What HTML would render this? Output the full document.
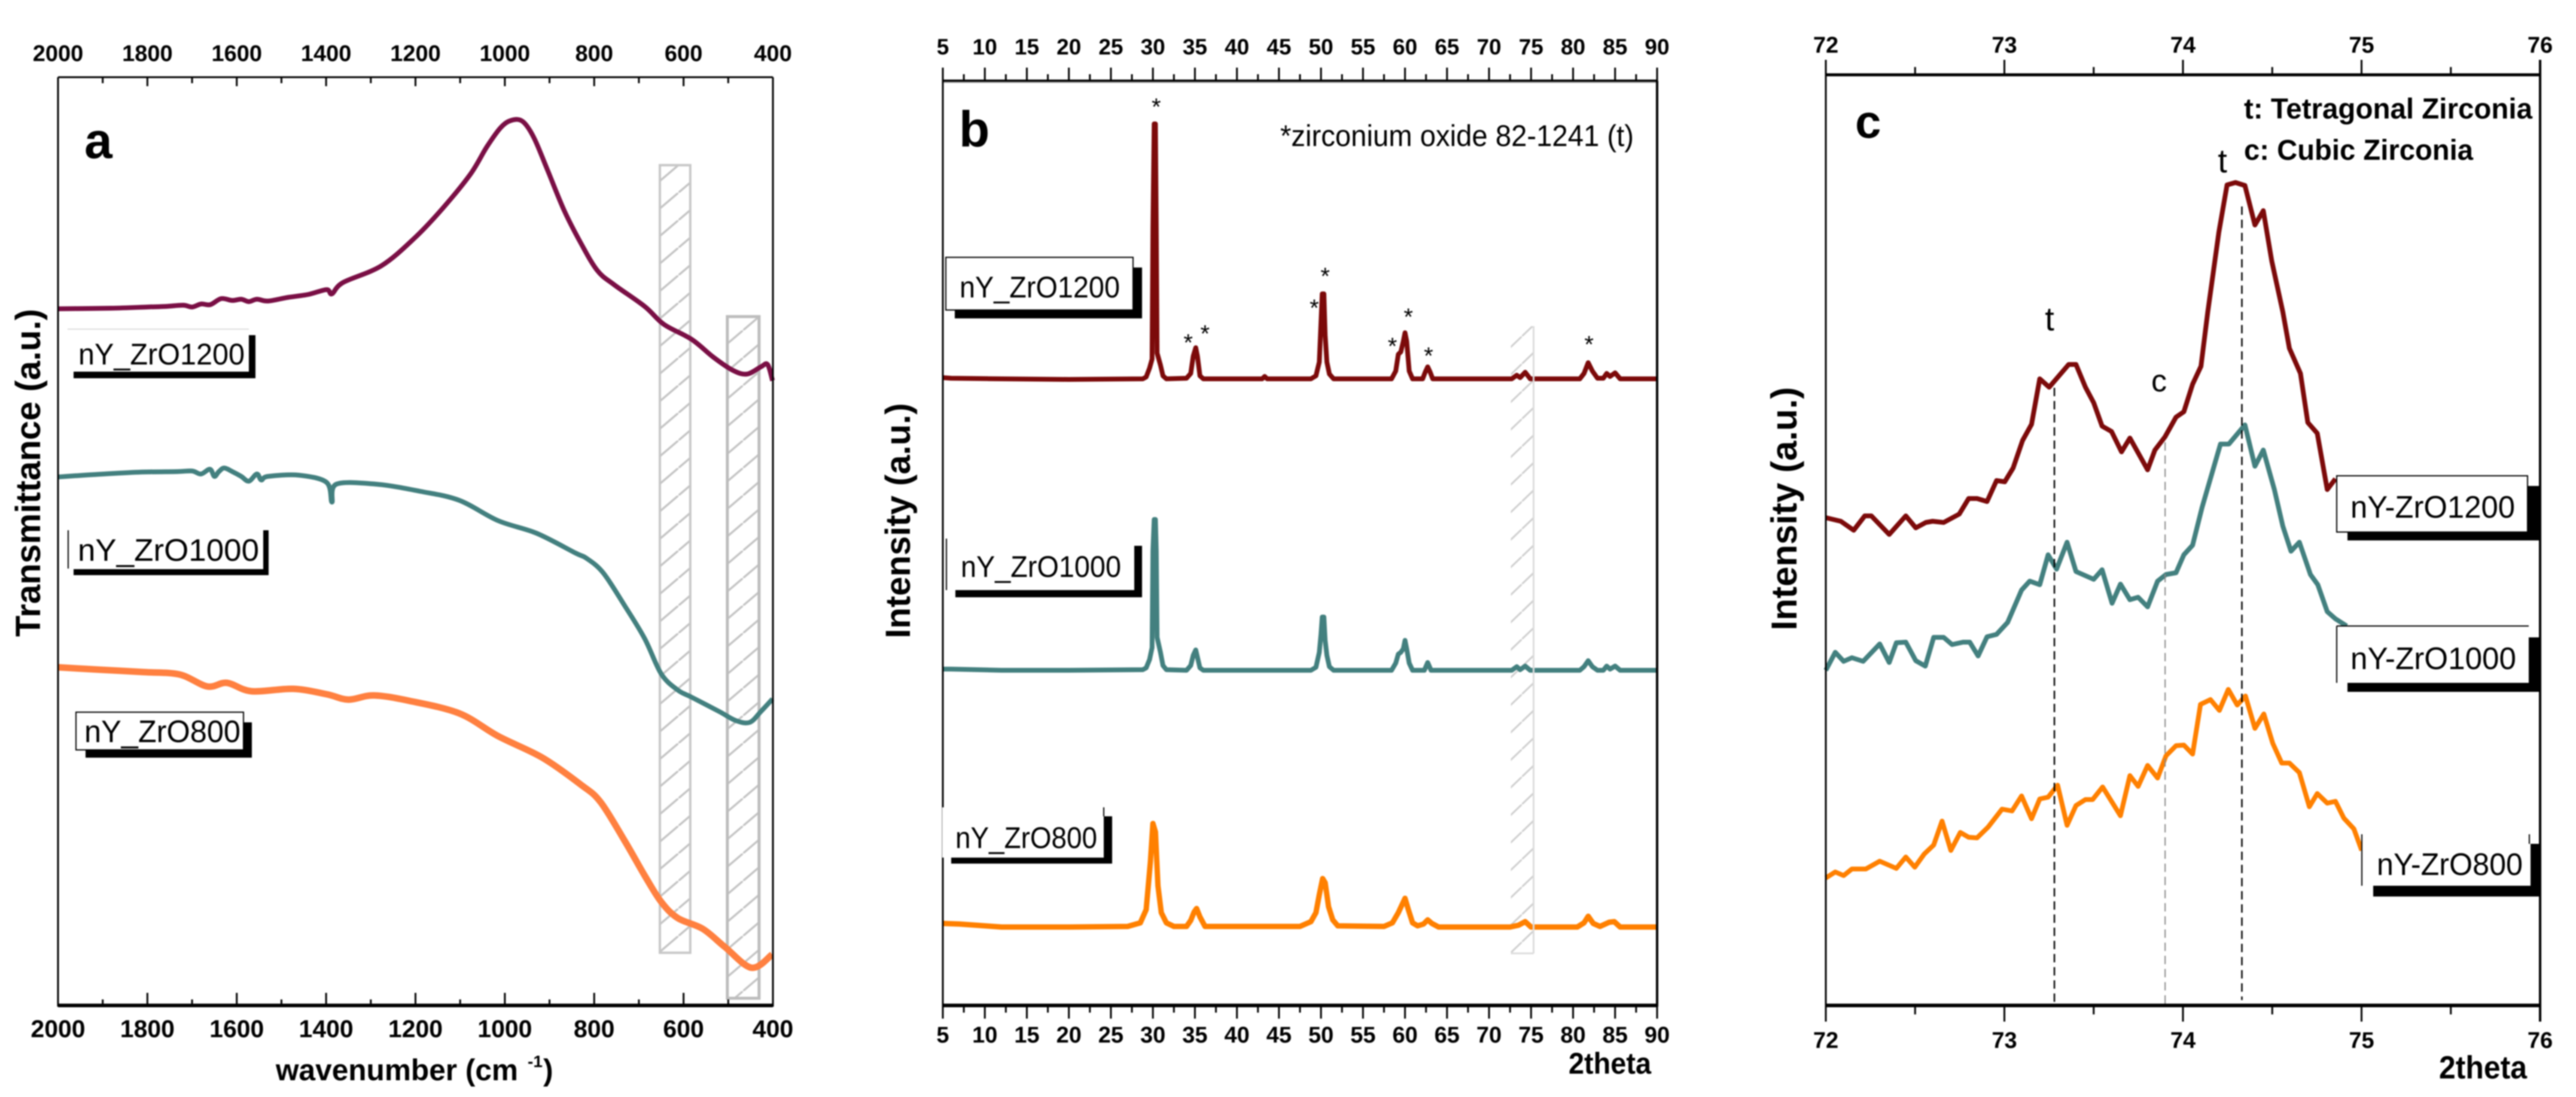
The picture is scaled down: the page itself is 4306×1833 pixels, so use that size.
<!DOCTYPE html>
<html lang="en">
<head>
<meta charset="utf-8">
<title>FTIR and XRD of nY_ZrO samples</title>
<style>
html,body{margin:0;padding:0;background:#fff;width:4306px;height:1833px;overflow:hidden}
svg{display:block;filter:blur(1px)}
text{font-family:"Liberation Sans",sans-serif;fill:#000}
.b{font-weight:700}
</style>
</head>
<body>
<svg id="fig" xmlns="http://www.w3.org/2000/svg" width="4306" height="1833" viewBox="0 0 4306 1833">
  <defs>
    <pattern id="hatchA" patternUnits="userSpaceOnUse" width="54" height="46"><line x1="0" y1="46" x2="54" y2="0" stroke="#c4c4c4" stroke-width="3.5"/></pattern>
    <pattern id="hatchB" patternUnits="userSpaceOnUse" width="48" height="46" y="10"><line x1="0" y1="46" x2="48" y2="0" stroke="#cfcfcf" stroke-width="3"/></pattern>
  </defs>
  <rect width="4306" height="1833" fill="#fff"/>
  <g id="hatches"></g>
  <g id="series"></g>
  <g id="guides"></g>
  <g id="axes"></g>

  <!-- panel a labels -->
  <g>
    <rect x="113" y="550" width="303" height="70" fill="#fff"/><line x1="113" y1="550" x2="416" y2="550" stroke="#ddd" stroke-width="2"/>
    <rect x="416" y="560" width="11" height="72" fill="#000"/><rect x="123" y="621" width="304" height="11" fill="#000"/>
    <text x="131" y="609" font-size="50" textLength="278" lengthAdjust="spacingAndGlyphs">nY_ZrO1200</text>
  </g>
  <g>
    <rect x="114" y="886" width="326" height="65" fill="#fff"/><line x1="114" y1="886" x2="114" y2="950" stroke="#000" stroke-width="2"/>
    <rect x="440" y="886" width="9" height="75" fill="#000"/><rect x="123" y="951" width="326" height="10" fill="#000"/>
    <text x="130" y="937" font-size="52" textLength="303" lengthAdjust="spacingAndGlyphs">nY_ZrO1000</text>
  </g>
  <g>
    <rect x="407" y="1207" width="14" height="59" fill="#000"/><rect x="143" y="1253" width="278" height="13" fill="#000"/>
    <rect x="127" y="1190" width="280" height="63" fill="#fff" stroke="#000" stroke-width="2"/>
    <text x="141" y="1240" font-size="52" textLength="261" lengthAdjust="spacingAndGlyphs">nY_ZrO800</text>
  </g>
  <!-- panel b labels -->
  <g>
    <rect x="1894" y="447" width="15" height="85" fill="#000"/><rect x="1596" y="518" width="313" height="14" fill="#000"/>
    <rect x="1581" y="430" width="313" height="88" fill="#fff" stroke="#000" stroke-width="2"/>
    <text x="1604" y="497" font-size="50" textLength="268" lengthAdjust="spacingAndGlyphs">nY_ZrO1200</text>
  </g>
  <g>
    <rect x="1582" y="900" width="314" height="86" fill="#fff"/><line x1="1582" y1="900" x2="1582" y2="986" stroke="#000" stroke-width="2"/>
    <rect x="1896" y="912" width="13" height="86" fill="#000"/><rect x="1597" y="986" width="312" height="12" fill="#000"/>
    <text x="1606" y="964" font-size="50" textLength="268" lengthAdjust="spacingAndGlyphs">nY_ZrO1000</text>
  </g>
  <g>
    <rect x="1575" y="1349" width="270" height="84" fill="#fff"/><line x1="1845" y1="1349" x2="1845" y2="1364" stroke="#000" stroke-width="2"/>
    <rect x="1845" y="1364" width="14" height="79" fill="#000"/><rect x="1590" y="1433" width="269" height="10" fill="#000"/>
    <text x="1597" y="1417" font-size="50" textLength="237" lengthAdjust="spacingAndGlyphs">nY_ZrO800</text>
  </g>
  <!-- panel c labels -->
  <g>
    <rect x="4225" y="812" width="21" height="91" fill="#000"/><rect x="3924" y="889" width="322" height="14" fill="#000"/>
    <rect x="3906" y="795" width="319" height="94" fill="#fff" stroke="#000" stroke-width="2"/>
    <text x="3929" y="865" font-size="52" textLength="275" lengthAdjust="spacingAndGlyphs">nY-ZrO1200</text>
  </g>
  <g>
    <rect x="3906" y="1046" width="321" height="95" fill="#fff"/>
    <line x1="3906" y1="1046" x2="4227" y2="1046" stroke="#000" stroke-width="2"/><line x1="3906" y1="1046" x2="3906" y2="1141" stroke="#000" stroke-width="2"/>
    <rect x="4227" y="1065" width="19" height="91" fill="#000"/><rect x="3924" y="1141" width="322" height="15" fill="#000"/>
    <text x="3929" y="1118" font-size="52" textLength="277" lengthAdjust="spacingAndGlyphs">nY-ZrO1000</text>
  </g>
  <g>
    <rect x="3948" y="1394" width="280" height="86" fill="#fff"/>
    <line x1="3948" y1="1394" x2="3948" y2="1480" stroke="#000" stroke-width="2"/><line x1="4228" y1="1394" x2="4228" y2="1410" stroke="#000" stroke-width="2"/>
    <rect x="4230" y="1410" width="16" height="88" fill="#000"/><rect x="3967" y="1480" width="279" height="18" fill="#000"/>
    <text x="3973" y="1462" font-size="52" textLength="244" lengthAdjust="spacingAndGlyphs">nY-ZrO800</text>
  </g>

  <!-- titles / annotations -->
  <text class="b" x="141" y="264" font-size="84">a</text>
  <text class="b" x="1603" y="245" font-size="84">b</text>
  <text class="b" x="3101" y="230" font-size="78">c</text>
  <text class="b" transform="translate(67 790) rotate(-90)" text-anchor="middle" font-size="58">Transmittance (a.u.)</text>
  <text class="b" transform="translate(1521 870) rotate(-90)" text-anchor="middle" font-size="58">Intensity (a.u.)</text>
  <text class="b" transform="translate(3003 850) rotate(-90)" text-anchor="middle" font-size="60">Intensity (a.u.)</text>
  <text class="b" x="461" y="1805" font-size="50" textLength="405" lengthAdjust="spacingAndGlyphs">wavenumber (cm</text>
  <text class="b" x="882" y="1783" font-size="28">-1</text>
  <text class="b" x="908" y="1805" font-size="50">)</text>
  <text class="b" x="2622" y="1794" font-size="50" textLength="138" lengthAdjust="spacingAndGlyphs">2theta</text>
  <text class="b" x="4077" y="1802" font-size="54" textLength="147" lengthAdjust="spacingAndGlyphs">2theta</text>
  <text x="2140" y="244" font-size="50" textLength="591" lengthAdjust="spacingAndGlyphs">*zirconium oxide 82-1241 (t)</text>
  <text class="b" x="3751" y="198" font-size="48" textLength="482" lengthAdjust="spacingAndGlyphs">t: Tetragonal Zirconia</text>
  <text class="b" x="3751" y="267" font-size="48" textLength="383" lengthAdjust="spacingAndGlyphs">c: Cubic Zirconia</text>
  <text x="3715" y="288" font-size="56" text-anchor="middle">t</text>
  <text x="3426" y="552" font-size="56" text-anchor="middle">t</text>
  <text x="3609" y="654" font-size="52" text-anchor="middle">c</text>
  <g id="stars"></g>
</svg>
<script>
// ---------- Panel a: FTIR (wavenumber, transmittance a.u.) ----------
const aTicks = [2000,1800,1600,1400,1200,1000,800,600,400];
const aWave1200 = [2000,1882,1800,1759,1720,1700,1680,1659,1635,1610,1590,1573,1555,1530,1486,1440,1399,1387,1362,1276,1201,1139,1077,1040,1009,985,960,935,904,867,830,793,755,687,644,582,533,489,458,427,412,401];
const aTrans1200 = [1164,1165,1167,1168,1170,1167,1172,1171,1181,1178,1180,1176,1180,1177,1183,1188,1196,1189,1208,1236,1283,1332,1389,1435,1467,1479,1477,1450,1395,1328,1274,1228,1204,1168,1138,1113,1083,1061,1055,1067,1071,1044];
const aWave1000 = [2000,1920,1820,1734,1700,1680,1660,1650,1640,1628,1610,1590,1573,1555,1545,1530,1461,1399,1387,1377,1288,1189,1102,1015,929,842,817,780,731,687,650,613,582,520,483,452,427,401];
const aTrans1000 = [883,887,891,892,893,888,896,884,892,898,892,884,876,888,878,884,886,874,841,871,871,859,844,810,789,756,747,723,667,613,554,527,515,491,476,473,491,512];
const aWave800 = [2000,1907,1808,1728,1666,1622,1567,1474,1399,1350,1294,1214,1102,1015,916,830,786,731,687,650,613,557,508,448,402];
const aTrans800 = [565,561,557,553,533,539,525,529,520,511,518,509,488,450,414,369,340,274,217,173,146,128,98,63,85];

// ---------- Panel b: XRD full range (2theta, intensity a.u.) ----------
const bTicks = [5,10,15,20,25,30,35,40,45,50,55,60,65,70,75,80,85,90];
const b2t1200 = [5,6,12,20,28.8,29.2,29.6,29.9,30,30.15,30.3,30.4,30.5,30.9,31.2,31.6,34,34.5,34.8,35.1,35.3,35.6,36,43,43.3,43.6,48.8,49.4,49.8,50,50.15,50.35,50.5,50.7,51,51.5,58.4,58.9,59.2,59.5,59.8,60,60.2,60.5,60.9,62.1,62.4,62.7,63,63.3,72.7,73.3,73.7,74.3,74.9,80.8,81.3,81.8,82.3,82.9,83.6,84,84.4,85,85.6,90];
const bInt1200 = [1049,1048,1047,1046,1047,1050,1065,1080,1300,1473,1473,1300,1090,1070,1052,1047,1048,1056,1085,1099,1085,1052,1047,1047,1051,1047,1047,1052,1075,1140,1189,1189,1120,1075,1055,1047,1047,1060,1088,1092,1110,1124,1110,1060,1047,1047,1058,1067,1058,1047,1047,1053,1049,1058,1047,1047,1056,1074,1060,1048,1048,1056,1051,1057,1047,1047];
const b2t1000 = [5,6,12,20,28.8,29.2,29.6,29.9,30,30.15,30.3,30.4,30.5,30.9,31.2,31.6,34,34.5,34.8,35.1,35.3,35.6,36,48.8,49.4,49.8,50,50.15,50.35,50.5,50.7,51,51.5,58.4,58.9,59.2,59.5,59.8,60,60.2,60.5,60.9,62.3,62.7,63.1,72.7,73.3,73.7,74.3,74.9,80.8,81.3,81.8,82.3,82.9,83.6,84,84.4,85,85.6,90];
const bInt1000 = [562,562,560,560,561,564,578,598,760,812,812,760,615,590,568,561,560,568,585,594,582,564,560,560,565,590,620,649,649,610,585,566,560,560,572,587,590,596,610,596,572,560,560,573,560,560,566,561,567,560,560,566,576,566,560,560,567,562,567,560,560];
const b2t800 = [5,7,12,20,27,28.5,29.2,29.7,30,30.3,30.6,31,31.6,32.5,34,34.5,34.9,35.2,35.6,36.2,47.5,48.8,49.4,49.8,50.2,50.5,50.9,51.4,52,57.5,58.5,59.2,59.7,60,60.4,60.9,61.5,62.2,62.7,63.2,64,72.5,73.5,74.3,75,80.5,81.3,81.8,82.4,83.2,84.3,84.9,85.6,90];
const bInt800 = [137,136,131,131,132,138,160,240,304,290,200,155,138,132,132,142,156,162,148,132,132,140,155,185,212,205,165,143,133,132,138,155,170,179,160,138,133,136,143,137,131,131,134,140,131,131,138,149,137,132,139,140,131,131];
const starTheta = [30.4,34.2,36.2,49.2,50.5,58.5,60.4,62.8,81.9];
const starHeight = [1488,1094,1109,1152,1205,1088,1137,1072,1091];

// ---------- Panel c: XRD zoom (2theta, intensity a.u.) ----------
const cTicks = [72,73,74,75,76];
const c2t1200 = [72,72.084,72.156,72.218,72.255,72.355,72.448,72.504,72.56,72.598,72.66,72.747,72.8,72.847,72.903,72.956,73.002,73.049,73.102,73.152,73.198,73.251,73.36,73.401,73.454,73.5,73.547,73.6,73.656,73.703,73.802,73.843,73.899,73.961,74.005,74.054,74.101,74.139,74.17,74.201,74.247,74.294,74.347,74.403,74.45,74.497,74.559,74.596,74.658,74.699,74.752,74.808,74.854];
const cInt1200 = [815,809,794,818,818,787,818,798,807,809,807,821,847,847,842,877,875,898,944,971,1047,1033,1071,1071,1033,1007,968,959,925,948,895,928,950,983,992,1038,1068,1159,1225,1292,1371,1375,1370,1304,1328,1244,1159,1098,1056,974,956,862,880];
const c2t1000 = [72,72.053,72.1,72.146,72.209,72.302,72.355,72.395,72.448,72.504,72.557,72.604,72.66,72.707,72.769,72.806,72.853,72.903,72.956,73.018,73.096,73.142,73.198,73.245,73.292,73.351,73.401,73.5,73.547,73.603,73.65,73.703,73.749,73.802,73.858,73.905,73.961,74.005,74.054,74.107,74.21,74.257,74.347,74.403,74.45,74.512,74.559,74.605,74.652,74.714,74.755,74.808,74.854,74.917];
const cInt1000 = [560,590,575,581,575,604,573,606,607,576,567,615,615,603,607,607,584,616,620,640,694,709,703,753,729,774,725,712,728,672,704,678,682,666,709,720,723,753,769,832,938,938,970,901,928,862,801,759,774,720,703,658,646,634];
const c2t800 = [72,72.053,72.1,72.146,72.224,72.302,72.395,72.448,72.498,72.551,72.604,72.651,72.7,72.753,72.8,72.847,72.909,72.987,73.043,73.096,73.152,73.198,73.245,73.298,73.351,73.401,73.454,73.494,73.55,73.65,73.703,73.749,73.802,73.858,73.905,73.961,74.005,74.054,74.098,74.154,74.204,74.254,74.304,74.35,74.403,74.453,74.503,74.553,74.596,74.652,74.708,74.752,74.808,74.854,74.901,74.957,75.001];
const cInt800 = [213,223,217,228,228,241,229,248,231,253,268,308,259,289,281,280,298,328,325,350,312,345,348,368,301,334,344,344,365,317,384,366,401,380,417,434,435,420,503,511,493,528,502,517,463,487,438,405,405,389,332,354,338,341,313,295,259];
const cGuides = [73.28,73.9,74.33];
const cGuideTop = [1032,941,1335];

// ---------- Scales ----------
const NS = 'http://www.w3.org/2000/svg';
function linear(d0,d1,r0,r1){return function(v){return r0+(v-d0)*(r1-r0)/(d1-d0);};}
const BOTTOM = 1680;
const yA = linear(0,1551,1680,129);     // intensity a.u. axis, shared across panels
const xA = linear(2000,400,97,1292);
const xB = linear(5,90,1576,2770);
const xC = linear(72,76,3052,4246);

const seriesG = document.getElementById('series');
const axesG = document.getElementById('axes');
const hatchG = document.getElementById('hatches');
const guideG = document.getElementById('guides');
const starG = document.getElementById('stars');

function make(tag,parent){const e=document.createElementNS(NS,tag);parent.appendChild(e);return e;}

function polyPath(px,py){
  let d='';
  for(let i=0;i<px.length;i++){d+=(i?'L':'M')+px[i].toFixed(1)+' '+py[i].toFixed(1);}
  return d;
}
// Catmull-Rom rendering for the smooth FTIR traces
function smoothPath(px,py){
  let d='M'+px[0].toFixed(1)+' '+py[0].toFixed(1);
  for(let i=0;i<px.length-1;i++){
    const a=Math.max(i-1,0),b=i+1,c=Math.min(i+2,px.length-1);
    const c1x=px[i]+(px[b]-px[a])/6,c1y=py[i]+(py[b]-py[a])/6;
    const c2x=px[b]-(px[c]-px[i])/6,c2y=py[b]-(py[c]-py[i])/6;
    d+='C'+c1x.toFixed(1)+' '+c1y.toFixed(1)+' '+c2x.toFixed(1)+' '+c2y.toFixed(1)+' '+px[b].toFixed(1)+' '+py[b].toFixed(1);
  }
  return d;
}
function drawSeries(xs,ys,xScale,color,width,name,smooth){
  const px=xs.map(xScale);
  const py=ys.map(yA);
  const el=make('path',seriesG);
  el.setAttribute('d',smooth?smoothPath(px,py):polyPath(px,py));
  el.setAttribute('fill','none');
  el.setAttribute('stroke',color);
  el.setAttribute('stroke-width',width);
  el.setAttribute('stroke-linejoin','round');
  
  
}

function axisLine(x1,y1,x2,y2,w,name,color){
  const el=make('line',axesG);
  el.setAttribute('x1',x1);el.setAttribute('y1',y1);el.setAttribute('x2',x2);el.setAttribute('y2',y2);
  el.setAttribute('stroke',color||'#000');el.setAttribute('stroke-width',w);
  
  
}
function tickLabel(x,y,size,txt,name){
  const el=make('text',axesG);
  el.setAttribute('x',x);el.setAttribute('y',y);el.setAttribute('font-size',size);
  el.setAttribute('text-anchor','middle');el.setAttribute('class','b');
  el.textContent=txt;
  
  
}
function ticks(values,scale,spec){
  values.forEach(function(v,i){
    const x=scale(v);
    axisLine(x,spec.topY,x,spec.topY+spec.topMajor,spec.tw,'top-tick');
    axisLine(x,BOTTOM,x,BOTTOM+spec.botMajor,spec.tw,'bottom-tick');
    tickLabel(x,spec.topLabelY,spec.topSize,String(v),'top-tick-label');
    tickLabel(x,spec.botLabelY,spec.botSize,String(v),'bottom-tick-label');
    if(i<values.length-1){
      const m=scale((v+values[i+1])/2);
      axisLine(m,spec.topY,m,spec.topY+spec.topMinor,spec.tw,'top-minor-tick');
      axisLine(m,BOTTOM,m,BOTTOM+spec.botMinor,spec.tw,'bottom-minor-tick');
    }
  });
}
function hatchRect(x1,x2,top,bottom,pat,stroke,sw,name){
  const el=make('rect',hatchG);
  el.setAttribute('x',x1);el.setAttribute('y',top);
  el.setAttribute('width',x2-x1);el.setAttribute('height',bottom-top);
  el.setAttribute('fill','url(#'+pat+')');
  el.setAttribute('stroke',stroke);el.setAttribute('stroke-width',sw);
  
  
}

// ---------- Hatched bands (wavenumber / 2theta extents) ----------
hatchRect(xA(653),xA(585),276,1592,'hatchA','#c8c8c8',4,'hatch-band-600');
hatchRect(xA(502),xA(431),529,1668,'hatchA','#bdbdbd',5,'hatch-band-450');
hatchRect(xB(72.6),xB(75.3),545,1593,'hatchB','none',0,'hatch-band-xrd');
axisLine(xB(75.3),545,xB(75.3),1593,3,'hatch-band-xrd-edge','#dcdcdc');
axisLine(xB(72.6),1593,xB(75.3),1593,3,'hatch-band-xrd-base','#dcdcdc');

// ---------- Series ----------
drawSeries(aWave1200,aTrans1200,xA,'#7a0f45',8,'ftir-line-1200',true);
drawSeries(aWave1000,aTrans1000,xA,'#43807f',8,'ftir-line-1000',true);
drawSeries(aWave800,aTrans800,xA,'#ff8040',11,'ftir-line-800',true);
drawSeries(b2t1200,bInt1200,xB,'#7c0a0a',8,'xrd-line-1200',false);
drawSeries(b2t1000,bInt1000,xB,'#43807f',8,'xrd-line-1000',false);
drawSeries(b2t800,bInt800,xB,'#ff8000',9,'xrd-line-800',false);
drawSeries(c2t1200,cInt1200,xC,'#7c0a0a',8,'xrd-zoom-line-1200',false);
drawSeries(c2t1000,cInt1000,xC,'#43807f',8,'xrd-zoom-line-1000',false);
drawSeries(c2t800,cInt800,xC,'#ff8000',8,'xrd-zoom-line-800',false);

// ---------- Dashed guides, panel c ----------
cGuides.forEach(function(g,i){
  const el=make('line',guideG);
  el.setAttribute('x1',xC(g));el.setAttribute('x2',xC(g));
  el.setAttribute('y1',yA(cGuideTop[i]));el.setAttribute('y2',BOTTOM-(i===2?9:0));
  el.setAttribute('stroke',i===1?'#888':'#000');
  el.setAttribute('stroke-width',i===1?2:2.5);
  el.setAttribute('stroke-dasharray','14 8');
  
  
});

// ---------- Stars, panel b ----------
starTheta.forEach(function(t,i){
  const el=make('text',starG);
  el.setAttribute('x',xB(t));el.setAttribute('y',yA(starHeight[i]));
  el.setAttribute('font-size',40);el.setAttribute('text-anchor','middle');
  el.textContent='*';
  
  
});

// ---------- Axes ----------
// panel a: inward ticks
axisLine(97,129,1292,129,3,'axis-top-a');
axisLine(97,1680,1292,1680,6,'axis-bottom-a');
axisLine(97,129,97,1682,3,'axis-left-a');
axisLine(1292,129,1292,1682,3,'axis-right-a');
ticks(aTicks,xA,{topY:129,topMajor:15,topMinor:10,botMajor:-21,botMinor:-10,tw:3,topLabelY:102,topSize:38,botLabelY:1733,botSize:41});
// panel b: outward ticks
axisLine(1576,135,2770,135,4,'axis-top-b');
axisLine(1576,137.5,2770,137.5,2,'axis-top-b-shadow','#999');
axisLine(1576,1680,2770,1680,6,'axis-bottom-b');
axisLine(1576,135,1576,1682,3,'axis-left-b');
axisLine(2770,135,2770,1682,4,'axis-right-b');
ticks(bTicks,xB,{topY:135,topMajor:-22,topMinor:-11,botMajor:22,botMinor:12,tw:3,topLabelY:91,topSize:37,botLabelY:1742,botSize:38});
// panel c: outward ticks
axisLine(3052,125,4246,125,5,'axis-top-c');
axisLine(3052,1680,4246,1680,6,'axis-bottom-c');
axisLine(3052,100,3052,1707,3,'axis-left-c');
axisLine(4246,100,4246,1707,4,'axis-right-c');
ticks(cTicks,xC,{topY:125,topMajor:-25,topMinor:-13,botMajor:27,botMinor:15,tw:3,topLabelY:88,topSize:38,botLabelY:1751,botSize:38});
</script>
</body>
</html>
